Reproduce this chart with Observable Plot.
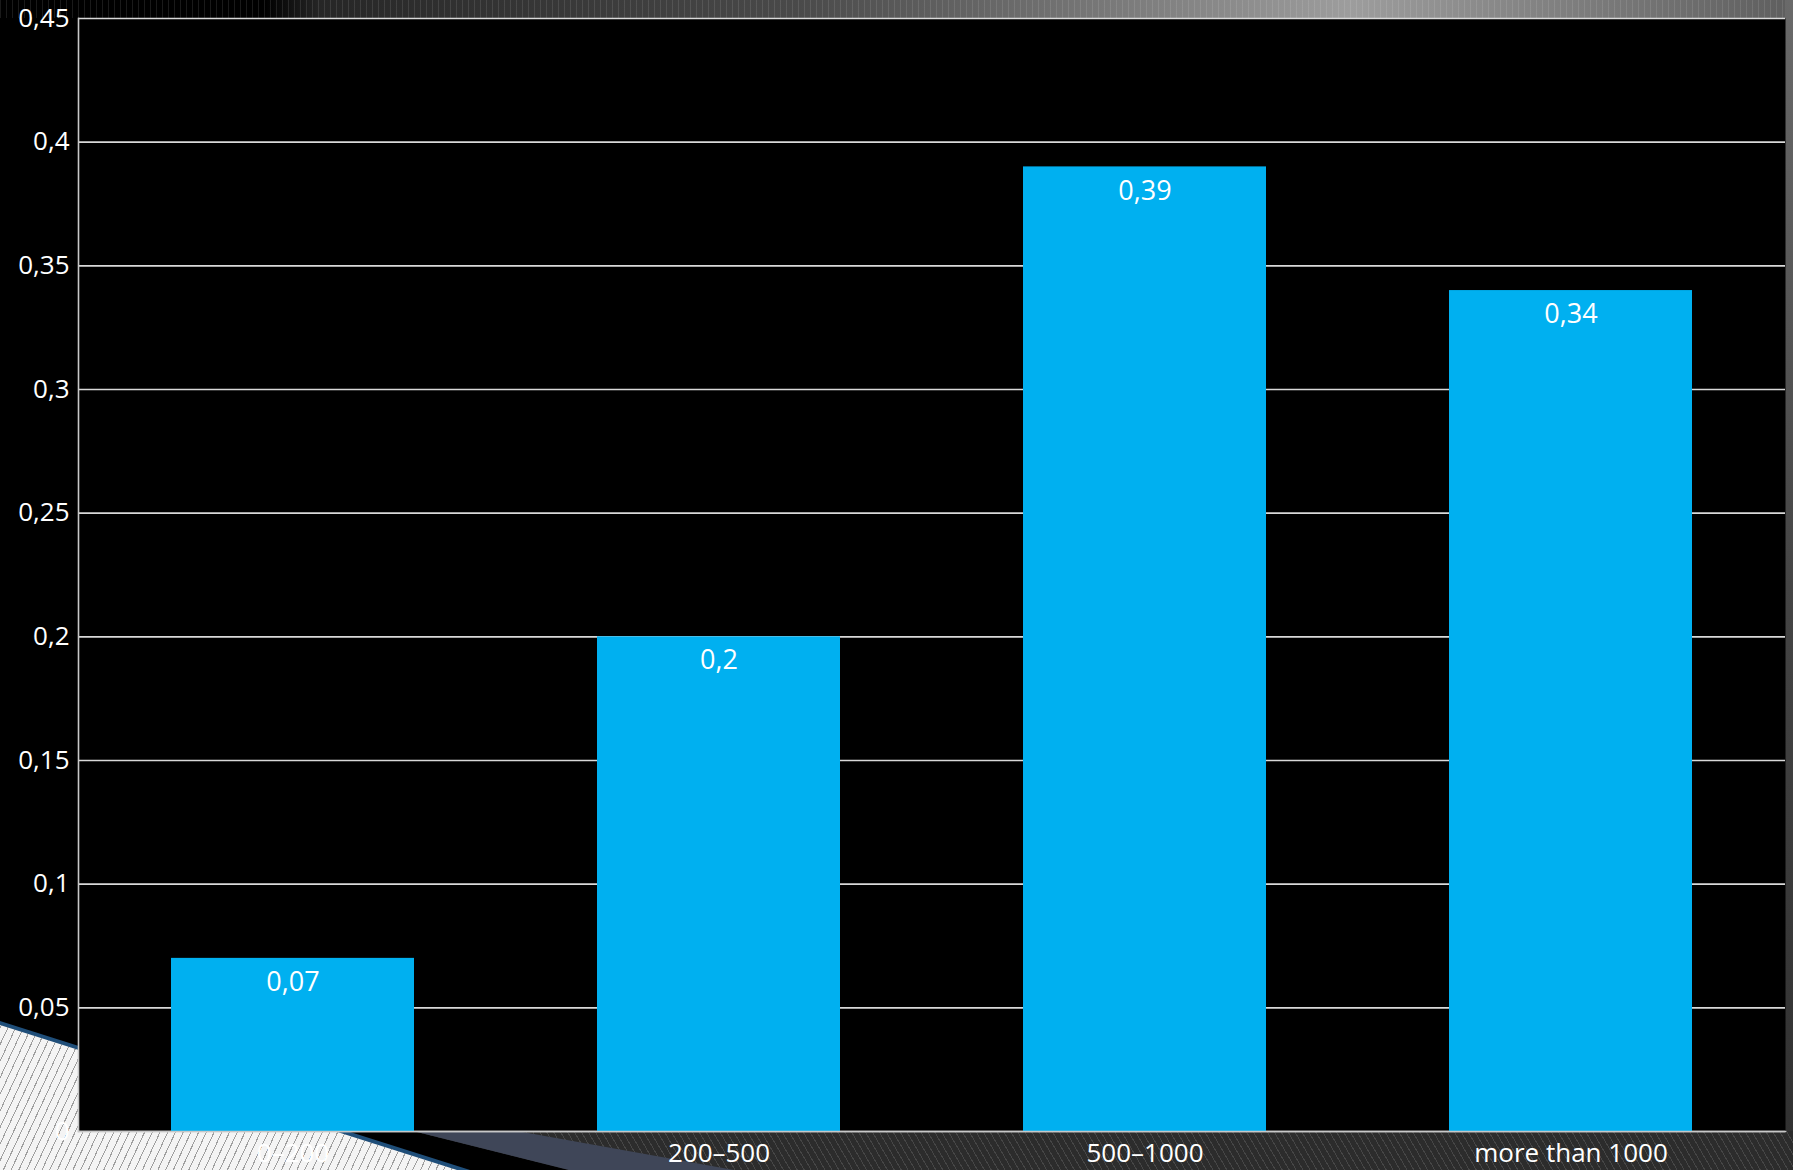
<!DOCTYPE html>
<html>
<head>
<meta charset="utf-8">
<script src="https://cdn.jsdelivr.net/npm/d3@7"></script>
<script src="https://cdn.jsdelivr.net/npm/@observablehq/plot@0.6"></script>
<style>
  html, body { margin: 0; padding: 0; background: #000; }
  #wrap { position: relative; width: 1793px; height: 1170px; overflow: hidden; background: #000; }
  .deco { position: absolute; left: 0; top: 0; width: 1793px; height: 1170px; }
  #chart { position: absolute; left: 0; top: 0; }
</style>
</head>
<body>
<div id="wrap">
  <div class="deco" style="background:
      repeating-linear-gradient(90deg, rgba(255,255,255,0.10) 0 1px, transparent 1px 6px),
      linear-gradient(to right, #000 0 265px, #262626 320px, #4a4a4a 800px, #9d9d9d 1350px, #7a7a7a 1600px, #5e5e5e 1793px);
      height: 18px;"></div>
  <div class="deco" style="left:1785px; width:8px; background: linear-gradient(to bottom, #6a6a6a, #454545 50%, #303030);"></div>
  <div class="deco" style="top:1131px; height:39px; background:
      repeating-linear-gradient(60deg, rgba(255,255,255,0.12) 0 1px, transparent 1px 6px), #2c2c2c;"></div>
  <div class="deco" style="background:#000; clip-path: polygon(0 1131px, 413px 1131px, 569px 1170px, 0 1170px);"></div>
  <div class="deco" style="background:#3f4658; clip-path: polygon(413px 1131px, 517px 1131px, 734px 1170px, 569px 1170px);"></div>
  <div class="deco" style="background:#1f4e79; clip-path: polygon(0 1021px, 470px 1170px, 0 1170px);"></div>
  <div class="deco" style="background:
      repeating-linear-gradient(115deg, rgba(0,0,0,0.35) 0 1px, transparent 1px 7px), #f4f4f4;
      clip-path: polygon(0 1025px, 457px 1170px, 0 1170px);"></div>
  <div id="chart"></div>
</div>
<script>
const categories = ["0–200", "200–500", "500–1000", "more than 1000"];
const values = [0.07, 0.2, 0.39, 0.34];
const yTicks = [0, 0.05, 0.1, 0.15, 0.2, 0.25, 0.3, 0.35, 0.4, 0.45];

const data = categories.map((c, i) => ({category: c, value: values[i]}));
const fmt = d => String(d).replace(".", ",");

const chart = Plot.plot({
  width: 1793,
  height: 1170,
  marginLeft: 78,
  marginRight: 8,
  marginTop: 18,
  marginBottom: 39,
  style: {
    background: "transparent",
    color: "white",
    fontFamily: "'Open Sans', 'Noto Sans', sans-serif",
    fontSize: "26px"
  },
  x: {domain: categories, paddingInner: 0.43, paddingOuter: 0.215, label: null},
  y: {domain: [0, 0.45], label: null},
  marks: [
    Plot.frame({fill: "black", stroke: null}),
    Plot.gridY(yTicks, {stroke: "#d9d9d9", strokeOpacity: 1, strokeWidth: 1.6}),
    Plot.barY(data, {x: "category", y: "value", fill: "#00B0F0"}),
    Plot.text(data, {x: "category", y: "value", text: d => fmt(d.value), dy: 24, fill: "white", fontSize: 27}),
    Plot.frame({anchor: "left", stroke: "#c8c8c8", strokeWidth: 1.6}),
    Plot.frame({anchor: "bottom", stroke: "#c8c8c8", strokeWidth: 1.6}),
    Plot.axisY(yTicks, {tickSize: 0, tickPadding: 9, tickFormat: fmt, fill: "white", fontSize: 26}),
    Plot.axisX({tickSize: 0, tickPadding: 12, fill: "white", fontSize: 26})
  ]
});
document.getElementById("chart").appendChild(chart);
</script>
</body>
</html>
